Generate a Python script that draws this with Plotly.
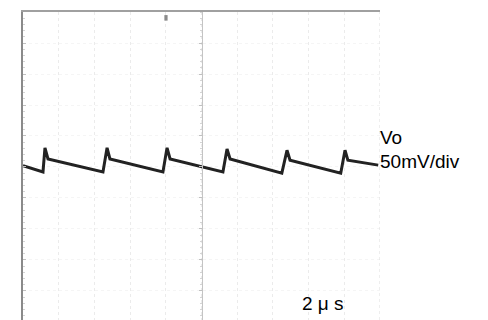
import plotly.graph_objects as go

# Oscilloscope trace Vo: time in microseconds, voltage in mV
t_us = [0.0, 1.12, 1.23, 1.40, 4.48, 4.71, 4.87, 7.84, 8.07, 8.24,
        11.20, 11.43, 11.60, 14.50, 14.79, 14.96, 17.80, 18.04, 18.20, 19.90]
v_mV = [2, -8, 31, 13, -8, 31, 13, -8, 31, 13,
        -8, 29, 13, -10, 27, 11, -10, 27, 11, 3]

x_divs = [0, 2, 4, 6, 8, 10, 12, 14, 16, 18, 20]
y_divs = [-200, -150, -100, -50, 0, 50, 100, 150, 200]

label_ch = "Vo"
label_scale = "50mV/div"
label_time = "2 μ s"

fig = go.Figure()

fig.add_trace(go.Scatter(x=t_us, y=v_mV, mode="lines",
                         line=dict(color="#222222", width=3),
                         hoverinfo="skip", showlegend=False))

# page body adds an 8px offset; compensate
L, R, T, B = 15, 108, 4, 0
W, H = 480, 312

fig.update_layout(
    width=W, height=H,
    margin=dict(l=L, r=R, t=T, b=B, pad=0),
    paper_bgcolor="white", plot_bgcolor="white",
    font=dict(family="Liberation Sans, Arial, sans-serif", color="black"),
    xaxis=dict(range=[0, 20], tickvals=x_divs, showticklabels=False,
               showgrid=True, gridcolor="#ebebeb", griddash="dot", gridwidth=1,
               zeroline=False, showline=True, linecolor="#a0a0a0", linewidth=2,
               mirror=False, side="top", ticks=""),
    yaxis=dict(range=[-246.8, 250], tickvals=y_divs, showticklabels=False,
               showgrid=True, gridcolor="#f5f5f5", griddash="dot", gridwidth=1,
               zeroline=False, showline=True, linecolor="#8a8a8a", linewidth=2,
               ticks="inside", ticklen=3, tickcolor="#c0c0c0",
               minor=dict(dtick=10, ticks="inside", ticklen=2, tickcolor="#d5d5d5")),
    yaxis2=dict(range=[-246.8, 250], overlaying="y", anchor="free", position=0.5,
                showticklabels=False, showgrid=False, zeroline=False,
                showline=True, linecolor="#c4c4c4", linewidth=1,
                tickvals=y_divs, ticks="outside", ticklen=3, tickcolor="#c0c0c0",
                minor=dict(dtick=10, ticks="outside", ticklen=2, tickcolor="#d5d5d5")),
)

# dummy invisible trace to show yaxis2
fig.add_trace(go.Scatter(x=[None], y=[None], yaxis="y2", showlegend=False, hoverinfo="skip"))

# right edge dotted line
fig.add_shape(type="line", xref="x", yref="paper", x0=20, x1=20, y0=0, y1=1,
              line=dict(color="#dddddd", width=1, dash="dot"))
# trigger marker at top
fig.add_shape(type="rect", xref="x", yref="paper", x0=7.92, x1=8.1, y0=0.972, y1=0.99,
              line=dict(width=0), fillcolor="#8a8a8a")

fig.add_annotation(text=label_ch, xref="paper", yref="paper", x=0.994, y=0.594,
                   xanchor="left", yanchor="middle", showarrow=False,
                   font=dict(size=19, color="black"))
fig.add_annotation(text=label_scale, xref="paper", yref="paper", x=0.994, y=0.516,
                   xanchor="left", yanchor="middle", showarrow=False,
                   font=dict(size=19, color="black"))
fig.add_annotation(text=label_time, xref="paper", yref="paper", x=0.776, y=0.055,
                   xanchor="left", yanchor="middle", showarrow=False,
                   font=dict(size=19, color="black"))

fig.write_html("out.html")
